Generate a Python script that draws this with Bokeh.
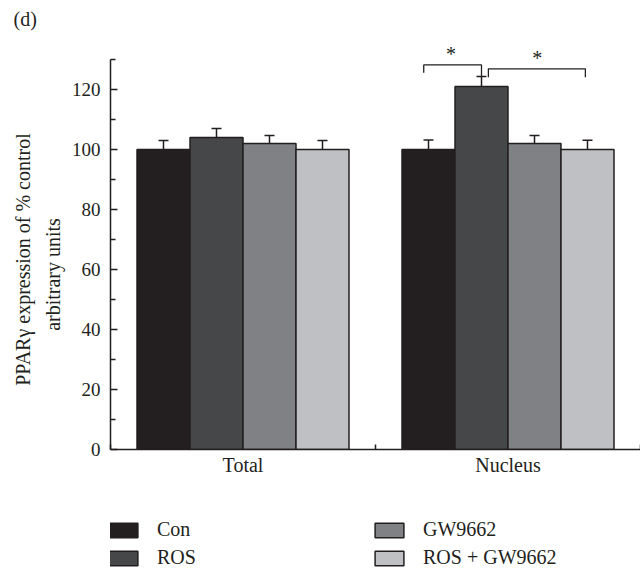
from bokeh.plotting import figure
from bokeh.models import (ColumnDataSource, Range1d, FixedTicker, Legend, LegendItem,
                          Whisker, TeeHead, Title)
from bokeh.layouts import column
from bokeh.core.properties import value
from bokeh.embed import file_html
from bokeh.resources import INLINE

# ---- data ----
groups = ["Total", "Nucleus"]
series = ["Con", "ROS", "GW9662", "ROS + GW9662"]
con = [100, 100]
ros = [104, 121]
gw = [102, 102]
rosgw = [100, 100]
con_err = [3.0, 3.2]
ros_err = [3.0, 3.3]
gw_err = [2.7, 2.7]
rosgw_err = [3.0, 3.1]
colors = ["#231f20", "#464749", "#808184", "#bfc0c3"]
offsets = [-0.3, -0.1, 0.1, 0.3]

# significance brackets (data units): x-left, x-right, y top, left leg bottom, right leg bottom
br_x0 = [1.182, 1.426]
br_x1 = [1.400, 1.792]
br_y = [128.2, 126.9]
br_yl = [125.6, 124.1]
br_yr = [124.0, 124.1]
star_x = [1.285, 1.61]
star_y = [131.9, 130.4]

y_ticks = [0, 20, 40, 60, 80, 100, 120]
y_minor = [10, 30, 50, 70, 90, 110, 130]

FONT = "Liberation Serif"
DARK = "#231f20"
NAN = float("nan")

p = figure(width=640, height=490, output_backend="svg", toolbar_location=None,
           x_range=Range1d(0, 2), y_range=Range1d(0, 140),
           min_border_left=110, min_border_right=0, min_border_top=29, min_border_bottom=41)
p.outline_line_color = None
p.xgrid.visible = False
p.ygrid.visible = False
p.background_fill_color = "white"

vals = [con, ros, gw, rosgw]
errs = [con_err, ros_err, gw_err, rosgw_err]
for i, (name, v, e) in enumerate(zip(series, vals, errs)):
    xs = [g + 0.5 + offsets[i] for g in range(len(groups))]
    src = ColumnDataSource(dict(x=xs, top=v,
                                upper=[a + b for a, b in zip(v, e)],
                                lower=[a - b for a, b in zip(v, e)]))
    p.vbar(x="x", top="top", width=0.2, source=src, fill_color=colors[i],
           line_color=DARK, line_width=1.5)
    w = Whisker(source=src, base="x", upper="upper", lower="lower",
                line_color=DARK, line_width=1.5,
                upper_head=TeeHead(size=10, line_color=DARK, line_width=1.5),
                lower_head=TeeHead(size=10, line_color=DARK, line_width=1.5))
    p.add_layout(w)

# brackets
bxs = [[a, a, b, b] for a, b in zip(br_x0, br_x1)]
bys = [[yl, yt, yt, yr] for yl, yt, yr in zip(br_yl, br_y, br_yr)]
p.multi_line(xs=bxs, ys=bys, line_color=DARK, line_width=1.3)
p.text(x=star_x, y=star_y, text=["*", "*"], text_font=value(FONT), text_font_size="20px",
       text_align="center", text_baseline="alphabetic", text_color=DARK)

# axes
xa = p.xaxis[0]
xa.ticker = FixedTicker(ticks=[0.5, 1.5], minor_ticks=[0, 1, 2])
xa.major_label_overrides = {0.5: groups[0], 1.5: groups[1]}
xa.major_tick_in = 0
xa.major_tick_out = 0
xa.minor_tick_in = 5
xa.minor_tick_out = 0
xa.major_label_standoff = 4
for ax in [p.xaxis[0], p.yaxis[0]]:
    ax.axis_line_color = DARK
    ax.axis_line_width = 1.5
    ax.major_tick_line_color = DARK
    ax.minor_tick_line_color = DARK
    ax.major_tick_line_width = 1.5
    ax.minor_tick_line_width = 1.5
    ax.major_label_text_font = FONT
    ax.major_label_text_color = DARK
    ax.axis_label_text_font = FONT
    ax.axis_label_text_color = DARK
    ax.axis_label_text_font_style = "normal"
xa.major_label_text_font_size = "20px"

ya = p.yaxis[0]
ya.ticker = FixedTicker(ticks=y_ticks, minor_ticks=y_minor)
ya.bounds = (0, 130)
ya.major_tick_in = 7
ya.major_tick_out = 0
ya.minor_tick_in = 5
ya.minor_tick_out = 0
ya.major_label_standoff = 10
ya.major_label_text_font_size = "19px"
ya.axis_label = ("PPARγ expression of % control\u2003\u2003\n"
                 "arbitrary units\u2003\u2003\u2003\u2002")
ya.axis_label_text_font_size = "20px"
ya.axis_label_text_line_height = 1.35
ya.axis_label_standoff = 5

p.add_layout(Title(text="(d)", align="left", offset=-97, standoff=0,
                   text_font=FONT, text_font_size="20px", text_font_style="normal",
                   text_color=DARK), "above")

# ---- legend panel: proxy renderers with no drawable data, only the legend shows ----
pl = figure(width=640, height=81, output_backend="svg", toolbar_location=None,
            x_range=Range1d(0, 1), y_range=Range1d(0, 1),
            min_border_left=110, min_border_right=0, min_border_top=10, min_border_bottom=0)
pl.axis.visible = False
pl.grid.visible = False
pl.outline_line_color = None
items = []
for s, c in zip(series, colors):
    r = pl.vbar(x=[NAN], top=[NAN], width=0.1, fill_color=c, line_color=DARK, line_width=1.5)
    items.append(LegendItem(label=s, renderers=[r]))
legend = Legend(items=items, location=(-5, 2), ncols=2, orientation="vertical",
                glyph_width=36, glyph_height=18, label_standoff=16, label_width=209,
                spacing=5, padding=0, margin=0,
                label_text_font=FONT, label_text_font_size="20px", label_text_color=DARK,
                border_line_alpha=0, background_fill_alpha=0)
pl.add_layout(legend, "center")

layout = column(p, pl, spacing=0)
open("out.html", "w").write(file_html(layout, INLINE))
